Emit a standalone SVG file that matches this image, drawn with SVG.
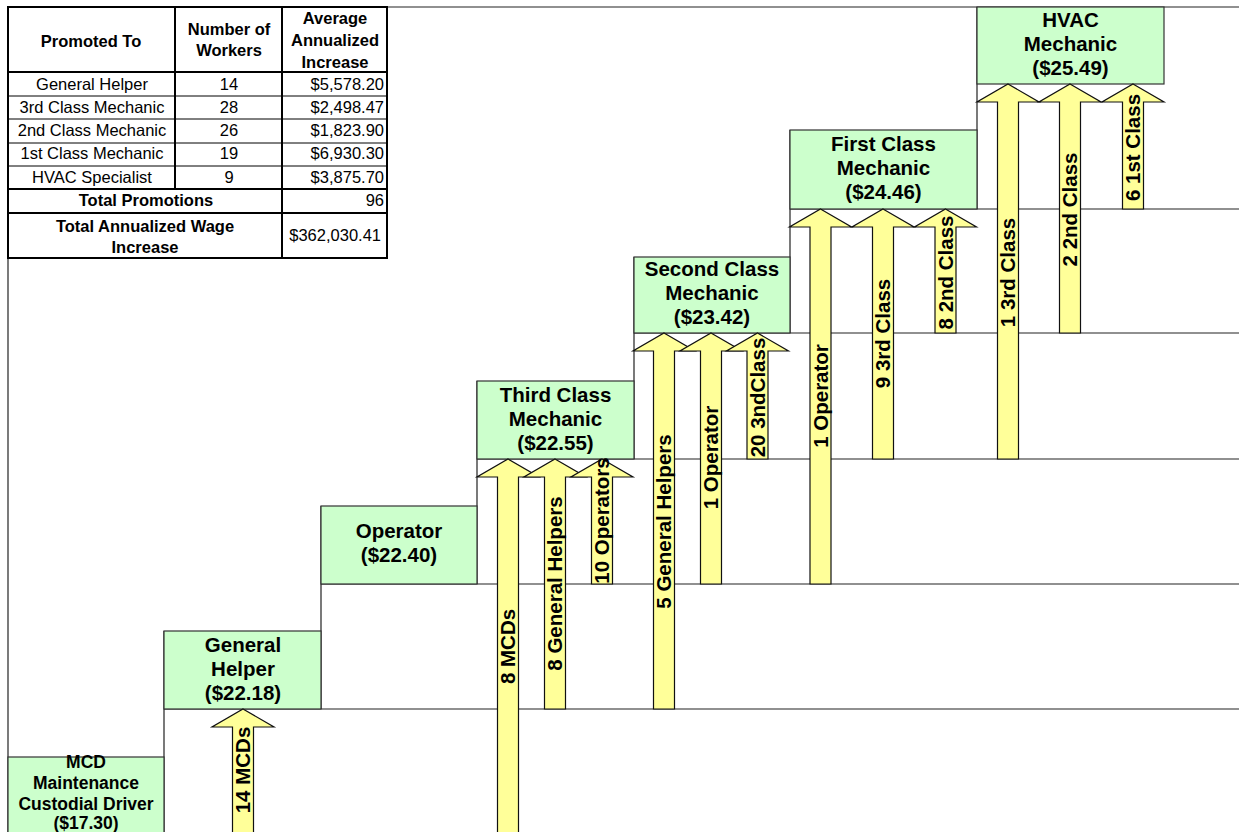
<svg xmlns="http://www.w3.org/2000/svg" width="1239" height="832" viewBox="0 0 1239 832">
<style>
text{font-family:"Liberation Sans",Arial,sans-serif;fill:#000}
.t{font-size:16.5px}
.tb{font-size:16.5px;font-weight:bold}
.n{font-size:20.5px;font-weight:bold;text-anchor:middle}
.m{font-size:17.5px;font-weight:bold;text-anchor:middle}
.a{font-size:20.5px;font-weight:bold;text-anchor:middle}
.c{text-anchor:middle}
.e{text-anchor:end}
.box{fill:#CCFFCC;stroke:#333;stroke-width:1.2}
.arr{fill:#FFFF99;stroke:#111;stroke-width:1.2;stroke-linejoin:miter}
.ln{stroke:#222;stroke-width:1.2;fill:none}
.tl{stroke:#000;stroke-width:1;fill:none}
.tk{stroke:#000;stroke-width:2;fill:none}
</style>
<rect width="1239" height="832" fill="#fff"/>

<g id="grid">
<path class="ln" d="M388,7H1239" stroke="#777"/>
<path class="ln" d="M8,258V832"/>
<path class="ln" d="M164,709H1239M321,584H1239M477,459H1239M634,333H1239M790,209H1239"/>
<path class="ln" d="M164,631V832M321,506V709M477,381V584M634,257V459M790,130V333M977,7V209"/>
</g>

<g id="table">
<rect x="8" y="7" width="379" height="251" fill="#fff" class="tk"/>
<path class="tk" d="M8,72H387M8,189H387M8,213H387M282,7V258M175,7V189"/>
<path class="tl" d="M8,96H387M8,119H387M8,143H387M8,166H387"/>
<text class="tb c" x="91" y="47">Promoted To</text>
<text class="tb c" x="229" y="35">Number of</text>
<text class="tb c" x="229" y="56">Workers</text>
<text class="tb c" x="335" y="24">Average</text>
<text class="tb c" x="335" y="46">Annualized</text>
<text class="tb c" x="335" y="68">Increase</text>
<text class="t c" x="92" y="90">General Helper</text>
<text class="t c" x="92" y="113">3rd Class Mechanic</text>
<text class="t c" x="92" y="136">2nd Class Mechanic</text>
<text class="t c" x="92" y="159">1st Class Mechanic</text>
<text class="t c" x="92" y="183">HVAC Specialist</text>
<text class="t c" x="229" y="90">14</text>
<text class="t c" x="229" y="113">28</text>
<text class="t c" x="229" y="136">26</text>
<text class="t c" x="229" y="159">19</text>
<text class="t c" x="229" y="183">9</text>
<text class="t e" x="384" y="90">$5,578.20</text>
<text class="t e" x="384" y="113">$2,498.47</text>
<text class="t e" x="384" y="136">$1,823.90</text>
<text class="t e" x="384" y="159">$6,930.30</text>
<text class="t e" x="384" y="183">$3,875.70</text>
<text class="tb c" x="146" y="206">Total Promotions</text>
<text class="t e" x="384" y="206">96</text>
<text class="tb c" x="145" y="232" font-size="17.5">Total Annualized Wage</text>
<text class="tb c" x="145" y="253" font-size="17.5">Increase</text>
<text class="t e" x="381" y="241">$362,030.41</text>
</g>

<g id="node-mcd">
<rect class="box" x="8" y="757" width="156" height="90"/>
<text class="m" x="86" y="768">MCD</text>
<text class="m" x="86" y="789">Maintenance</text>
<text class="m" x="86" y="810">Custodial Driver</text>
<text class="m" x="86" y="829">($17.30)</text>
</g>
<g id="node-general-helper">
<rect class="box" x="164" y="631" width="157" height="78"/>
<text class="n" x="243" y="652">General</text>
<text class="n" x="243" y="676">Helper</text>
<text class="n" x="243" y="700">($22.18)</text>
</g>
<g id="node-operator">
<rect class="box" x="321" y="506" width="156" height="78"/>
<text class="n" x="399" y="538">Operator</text>
<text class="n" x="399" y="562">($22.40)</text>
</g>
<g id="node-third-class">
<rect class="box" x="477" y="381" width="157" height="78"/>
<text class="n" x="555.5" y="402">Third Class</text>
<text class="n" x="555.5" y="426">Mechanic</text>
<text class="n" x="555.5" y="450">($22.55)</text>
</g>
<g id="node-second-class">
<rect class="box" x="634" y="257" width="156" height="76"/>
<text class="n" x="712" y="276">Second Class</text>
<text class="n" x="712" y="300">Mechanic</text>
<text class="n" x="712" y="324">($23.42)</text>
</g>
<g id="node-first-class">
<rect class="box" x="790" y="130" width="187" height="79"/>
<text class="n" x="883.5" y="151">First Class</text>
<text class="n" x="883.5" y="175">Mechanic</text>
<text class="n" x="883.5" y="199">($24.46)</text>
</g>
<g id="node-hvac">
<rect class="box" x="977" y="7" width="187" height="77"/>
<text class="n" x="1070.5" y="27">HVAC</text>
<text class="n" x="1070.5" y="51">Mechanic</text>
<text class="n" x="1070.5" y="75">($25.49)</text>
</g>

<g id="connectors">
<path class="arr" d="M243,709L274,727H253.5V840H232.5V727H212Z"/>
<text class="a" transform="translate(243,770) rotate(-90)" dy="7">14 MCDs</text>

<path class="arr" d="M508,459L539,477H518.5V840H497.5V477H477Z"/>
<text class="a" transform="translate(508,646.5) rotate(-90)" dy="7">8 MCDs</text>
<path class="arr" d="M555,459L586,477H565.5V709H544.5V477H524Z"/>
<text class="a" transform="translate(555,583.5) rotate(-90)" dy="7">8 General Helpers</text>
<path class="arr" d="M602,459L633,477H612.5V584H591.5V477H571Z"/>
<text class="a" transform="translate(602,520.5) rotate(-90)" dy="7">10 Operators</text>

<path class="arr" d="M664,333L695,351H674.5V709H653.5V351H633Z"/>
<text class="a" transform="translate(664,521.5) rotate(-90)" dy="7">5 General Helpers</text>
<path class="arr" d="M711,333L742,351H721.5V584H700.5V351H680Z"/>
<text class="a" transform="translate(711,457.5) rotate(-90)" dy="7">1 Operator</text>
<path class="arr" d="M757.5,333L788.5,351H768V459H747V351H726.5Z"/>
<text class="a" transform="translate(757.5,397.5) rotate(-90)" dy="7">20 3ndClass</text>

<path class="arr" d="M820.5,209L851.5,227H831V584H810V227H789.5Z"/>
<text class="a" transform="translate(820.5,396) rotate(-90)" dy="7">1 Operator</text>
<path class="arr" d="M883,209L914,227H893.5V459H872.5V227H852Z"/>
<text class="a" transform="translate(883,333.5) rotate(-90)" dy="7">9 3rd Class</text>
<path class="arr" d="M945.5,209L976.5,227H956V333H935V227H914.5Z"/>
<text class="a" transform="translate(945.5,272.5) rotate(-90)" dy="7">8 2nd Class</text>

<path class="arr" d="M1008,84L1039,102H1018.5V459H997.5V102H977Z"/>
<text class="a" transform="translate(1008,272.5) rotate(-90)" dy="7">1 3rd Class</text>
<path class="arr" d="M1070,84L1101,102H1080.5V333H1059.5V102H1039Z"/>
<text class="a" transform="translate(1070,209.5) rotate(-90)" dy="7">2 2nd Class</text>
<path class="arr" d="M1133,84L1164,102H1143.5V209H1122.5V102H1102Z"/>
<text class="a" transform="translate(1133,147.5) rotate(-90)" dy="7">6 1st Class</text>
</g>
</svg>
